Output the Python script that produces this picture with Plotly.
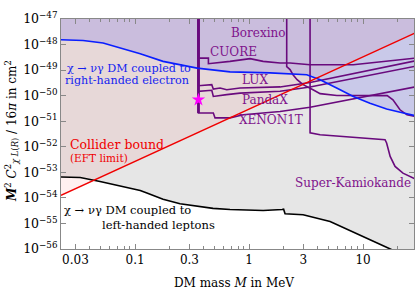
import numpy as np
import plotly.graph_objects as go

# ---------------- data (M in MeV, y in cm^2) ----------------
blue_M = [0.0224, 0.035, 0.0524, 0.0851, 0.111, 0.176, 0.350, 0.681, 1.53, 3.21, 4.20, 5.87, 8.22, 11.5, 16.1, 22.6, 28.6]
blue_y = [1.55e-48, 1.45e-48, 1.15e-48, 6.3e-49, 4.4e-49, 2.2e-49, 1.2e-49, 8.5e-50, 7.8e-50, 6.6e-50, 4.2e-50, 2.0e-50, 9.3e-51, 5.1e-51, 3.0e-51, 2.1e-51, 1.66e-51]

red_M = [0.0224, 28.6]
red_y = [1.26e-54, 2.82e-48]

black_M = [0.022, 0.033, 0.0493, 0.0851, 0.111, 0.127, 0.176, 0.248, 0.350, 0.483, 0.681, 1.33, 1.95, 2.01, 2.07, 2.98, 5.14, 9.42, 16.6, 20.0]
black_y = [6.6e-54, 6.3e-54, 4.4e-54, 2.45e-54, 1.95e-54, 1.55e-54, 8.9e-55, 5.9e-55, 4.7e-55, 3.9e-55, 3.5e-55, 3.2e-55, 3.5e-55, 3.6e-55, 2.4e-55, 2.2e-55, 1.2e-55, 3.6e-56, 1.1e-56, 7.4e-57]

cuore_M = [0.36, 0.36, 0.44, 0.44, 0.68, 1.02, 1.33, 1.87, 2.29, 3.43, 8.2, 28.6]
cuore_y = [1e-47, 2.95e-49, 2.95e-49, 1.78e-49, 2.19e-49, 2.8e-49, 2.2e-49, 1.9e-49, 1.9e-49, 1.62e-49, 1.62e-49, 2.95e-49]

lux_M = [0.36, 0.36, 0.471, 0.486, 0.557, 0.637, 0.834, 1.87, 3.43, 28.6]
lux_y = [1e-47, 2.45e-50, 2.7e-50, 1.8e-50, 2.0e-50, 1.7e-50, 2.0e-50, 2.2e-50, 3.3e-50, 2.3e-49]

pandax_M = [0.36, 0.36, 0.471, 0.486, 0.637, 0.834, 1.87, 3.43, 28.6]
pandax_y = [1e-47, 1.48e-50, 1.62e-50, 9.3e-51, 1.1e-50, 1.26e-50, 1.48e-50, 2.2e-50, 1.41e-49]

xenon_M = [0.36, 0.36, 0.486, 0.503, 0.68, 0.891, 1.87, 3.43, 28.6]
xenon_y = [1e-47, 2.1e-51, 2.1e-51, 1.35e-51, 1.35e-51, 1.78e-51, 2.4e-51, 3.5e-51, 2.2e-50]

borexino_M = [2.14, 2.14, 2.29, 2.43, 2.64, 2.98, 3.64, 4.2, 5.9, 16.3, 18.3, 21.1, 24.3, 28.6]
borexino_y = [1e-47, 1.38e-49, 1.05e-49, 6.6e-50, 4.2e-50, 2.7e-50, 1.7e-50, 1.2e-50, 1.02e-50, 1.0e-50, 6.9e-51, 2.8e-51, 1.78e-51, 1.55e-51]

superk_M = [3.43, 3.43, 4.2, 15.6, 16.1, 17.3, 19.1, 22.4, 28.6]
superk_y = [1e-47, 3.5e-52, 2.95e-52, 1.9e-52, 1.41e-52, 4.2e-53, 1.7e-53, 9.3e-54, 5.5e-54]

star_M = [0.36]
star_y = [6.9e-51]

xtick_vals = [0.03, 0.1, 0.3, 1, 3, 10]
xtick_text = ["0.03", "0.1", "0.3", "1", "3", "10"]
ytick_exps = [-47, -48, -49, -50, -51, -52, -53, -54, -55, -56]

# ---------------- figure ----------------
FONT = "DejaVu Serif"
PURPLE = "rgb(105,10,125)"
PURPLE_TXT = "rgb(128,20,140)"
TOP = 1e-46
BOT = 1e-58
XL, XR = 0.015, 40

fig = go.Figure()

# gray excluded region above black curve
fig.add_trace(go.Scatter(
    x=black_M + [XR, XR, XL, XL], y=black_y + [BOT, TOP, TOP, black_y[0]],
    fill="toself", fillcolor="#e6e6e6", line=dict(width=0), mode="lines", hoverinfo="skip"))
# collider (red) region
fig.add_trace(go.Scatter(
    x=[XL] + red_M + [XR, XR, XL], y=[red_y[0] * (XL / red_M[0]) ** 2] + red_y + [red_y[-1] * (XR / red_M[-1]) ** 2, TOP, TOP],
    fill="toself", fillcolor="rgba(255,0,0,0.06)", line=dict(width=0), mode="lines", hoverinfo="skip"))
# right-handed (blue) region
fig.add_trace(go.Scatter(
    x=[XL] + blue_M + [XR, XR, XL], y=[blue_y[0]] + blue_y + [blue_y[-1], TOP, TOP],
    fill="toself", fillcolor="rgba(30,30,255,0.14)", line=dict(width=0), mode="lines", hoverinfo="skip"))

# experimental curves
for mx, my in [(cuore_M, cuore_y), (lux_M, lux_y), (pandax_M, pandax_y), (xenon_M, xenon_y),
               (borexino_M, borexino_y), (superk_M, superk_y)]:
    fig.add_trace(go.Scatter(x=mx, y=my, mode="lines", line=dict(color=PURPLE, width=1.6), hoverinfo="skip"))
# common (thicker) threshold edge of the direct-detection curves
fig.add_trace(go.Scatter(x=xenon_M[:2], y=xenon_y[:2], mode="lines", line=dict(color=PURPLE, width=2.8), hoverinfo="skip"))

fig.add_trace(go.Scatter(x=black_M, y=black_y, mode="lines", line=dict(color="black", width=1.6)))
fig.add_trace(go.Scatter(x=blue_M, y=blue_y, mode="lines", line=dict(color="rgb(10,30,255)", width=1.6)))
fig.add_trace(go.Scatter(x=red_M, y=red_y, mode="lines", line=dict(color="rgb(240,0,0)", width=1.4)))
fig.add_trace(go.Scatter(x=star_M, y=star_y, mode="markers",
                         marker=dict(symbol="star", size=10, color="magenta", line=dict(width=0))))

# minor ticks
x_minor = [m * 10.0 ** e for e in range(-2, 2) for m in range(1, 10)]
x_minor = [v for v in x_minor if 0.0224 <= v <= 28 and round(v, 6) not in [round(t, 6) for t in xtick_vals]]

fig.update_layout(
    width=419, height=293, autosize=False, showlegend=False,
    margin=dict(l=61, r=5, t=19, b=44),
    paper_bgcolor="white", plot_bgcolor="white",
    font=dict(family=FONT, size=12, color="black"),
    xaxis=dict(type="log", range=[np.log10(0.0224), np.log10(28.0)],
               tickvals=xtick_vals, ticktext=xtick_text, ticks="inside", ticklen=5,
               tickcolor="#888", showline=True, linecolor="#888", linewidth=1, mirror="ticks",
               showgrid=False, zeroline=False, tickfont=dict(family=FONT, size=12),
               minor=dict(tickvals=x_minor, ticks="inside", ticklen=3, tickcolor="#888", showgrid=False)),
    yaxis=dict(type="log", range=[-56, -47],
               tickvals=[10.0 ** e for e in ytick_exps],
               ticktext=["10<sup>\u2212%d</sup>" % (-e) for e in ytick_exps],
               ticks="inside", ticklen=5, tickcolor="#888",
               showline=True, linecolor="#888", linewidth=1, mirror="ticks",
               showgrid=False, zeroline=False, tickfont=dict(family=FONT, size=12.5)),
)

ann = []
def A(x, y, text, color, size, xanchor="center"):
    ann.append(dict(x=x, y=y, xref="x", yref="y", text=text, showarrow=False,
                    font=dict(family=FONT, size=size, color=color), xanchor=xanchor, yanchor="middle"))

A(0.079, -47.536, "Borexino", PURPLE_TXT, 12)
A(-0.140, -48.28, "CUORE", PURPLE_TXT, 12)
A(0.053, -49.38, "LUX", PURPLE_TXT, 12)
A(0.140, -50.16, "PandaX", PURPLE_TXT, 12)
A(0.193, -50.94, "XENON1T", PURPLE_TXT, 12)
A(0.912, -53.40, "Super-Kamiokande", PURPLE_TXT, 12)
A(-1.057, -48.94, "\u03c7 \u2192 \u03bd\u03b3 DM coupled to", "rgb(20,30,240)", 11.2)
A(-1.070, -49.39, "right-handed electron", "rgb(20,30,240)", 11.2)
A(-1.066, -54.464, "\u03c7 \u2192 \u03bd\u03b3 DM coupled to", "black", 11.5)
A(-0.798, -55.051, "left-handed leptons", "black", 11.5)
A(-1.162, -51.92, "Collider bound", "rgb(240,0,0)", 12.5)
A(-1.316, -52.44, "(EFT limit)", "rgb(240,0,0)", 10.5)

ann.append(dict(x=0.49, y=-0.148, xref="paper", yref="paper", showarrow=False,
                text="DM mass <i>M</i> in MeV", font=dict(family=FONT, size=12),
                xanchor="center", yanchor="middle"))
ann.append(dict(x=-0.139, y=0.513, xref="paper", yref="paper", showarrow=False, textangle=-90,
                text="<b><i>M</i></b><sup>2</sup> <i>C</i><sup>2</sup><sub><i>\u03c7 L</i>(<i>R</i>)</sub> / 16<i>\u03c0</i> in cm<sup>2</sup>",
                font=dict(family=FONT, size=12), xanchor="center", yanchor="middle"))
fig.update_layout(annotations=ann)

fig.write_html("out.html", config={"displayModeBar": False},
               post_script="document.body.style.margin='0';document.body.style.padding='0';")
